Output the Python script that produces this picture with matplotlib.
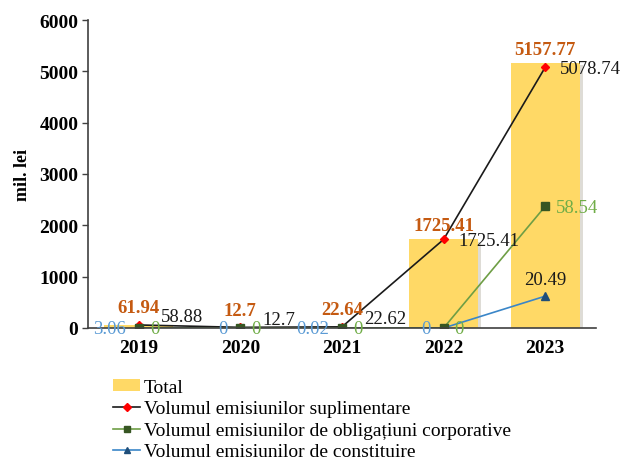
import matplotlib
matplotlib.use("Agg")
import matplotlib.pyplot as plt
import matplotlib.patheffects as pe
from matplotlib.lines import Line2D
from matplotlib.patches import Patch

years = ['2019', '2020', '2021', '2022', '2023']
total = [61.94, 12.7, 22.64, 1725.41, 5157.77]
suplimentare = [58.88, 12.7, 22.62, 1725.41, 5078.74]
# plotted positions as drawn in the reference / labels as printed
obligatiuni_pos = [0, 0, 0, 0, 2370]
obligatiuni_lbl = ['0', '0', '0', '0', '58.54']
constituire_pos = [3.06, 0, 0.02, 0, 620]
constituire_lbl = ['3.06', '0', '0.02', '0', '20.49']
total_lbl = ['61.94', '12.7', '22.64', '1725.41', '5157.77']
supl_lbl = ['58.88', '12.7', '22.62', '1725.41', '5078.74']

plt.rcParams['font.family'] = ['Liberation Serif', 'DejaVu Serif']

fig = plt.figure(figsize=(6.22, 4.60), dpi=100)
ax = fig.add_axes([88/622, 1-329/460, (596-88)/622, (329-21)/460])

x = list(range(len(years)))
shadow = [pe.SimplePatchShadow(offset=(2, -1.5), alpha=0.18), pe.Normal()]
ax.bar(x, total, width=0.68, color='#FFD966', zorder=2, path_effects=shadow)

ax.plot(x, suplimentare, color='#1a1a1a', lw=1.2, marker='D', ms=4.5,
        mfc='#FF0000', mec='#FF0000', zorder=4)
ax.plot(x, obligatiuni_pos, color='#6E9E45', lw=1.2, marker='s', ms=5.5,
        mfc='#375623', mec='#375623', zorder=5)
ax.plot(x, constituire_pos, color='#3A86C8', lw=1.2, marker='^', ms=6,
        mfc='#1F4E79', mec='#1F4E79', zorder=3)

ax.set_xlim(-0.5, 4.5)
ax.set_ylim(0, 6000)
ax.set_yticks(range(0, 6001, 1000))
ax.set_xticks(x)
ax.set_xticklabels(years)
for lab in ax.get_xticklabels() + ax.get_yticklabels():
    lab.set_fontweight('bold')
    lab.set_fontsize(14)
ax.tick_params(axis='x', length=0, pad=8)
ax.tick_params(axis='y', length=4, width=1, color='#404040', pad=3)
for s in ['top', 'right']:
    ax.spines[s].set_visible(False)
for s in ['left', 'bottom']:
    ax.spines[s].set_color('#404040')
    ax.spines[s].set_linewidth(1.2)
ax.spines['bottom'].set_zorder(6)
ax.set_ylabel('mil. lei', fontsize=13, fontweight='bold', labelpad=6)

fs = 13.5
for i in x:
    small = total[i] < 500
    ax.annotate(total_lbl[i], (i, total[i]), xytext=(0, 17 if small else 14),
                textcoords='offset pixels', ha='center', va='center',
                color='#C55A11', fontweight='bold', fontsize=fs, zorder=7)
    ax.annotate(supl_lbl[i], (i, suplimentare[i]),
                xytext=((22, 8) if small else (15, -1)), textcoords='offset pixels',
                ha='left', va='center', color='#1a1a1a', fontsize=fs, zorder=7)
    ax.annotate(obligatiuni_lbl[i], (i, obligatiuni_pos[i]), xytext=(11, -1),
                textcoords='offset pixels', ha='left', va='center',
                color='#70AD47', fontsize=fs, zorder=7)
    if constituire_pos[i] > 100:
        ax.annotate(constituire_lbl[i], (i, constituire_pos[i]), xytext=(0, 17),
                    textcoords='offset pixels', ha='center', va='center',
                    color='#1a1a1a', fontsize=fs, zorder=7)
    else:
        ax.annotate(constituire_lbl[i], (i, constituire_pos[i]), xytext=(-13, -1),
                    textcoords='offset pixels', ha='right', va='center',
                    color='#5B9BD5', fontsize=fs, zorder=7)

handles = [
    Patch(facecolor='#FFD966', edgecolor='none'),
    Line2D([], [], color='#1a1a1a', lw=1.2, marker='D', ms=4, mfc='#FF0000', mec='#FF0000'),
    Line2D([], [], color='#6E9E45', lw=1.2, marker='s', ms=4.5, mfc='#375623', mec='#375623'),
    Line2D([], [], color='#3A86C8', lw=1.2, marker='^', ms=5, mfc='#1F4E79', mec='#1F4E79'),
]
labels = ['Total', 'Volumul emisiunilor suplimentare',
          'Volumul emisiunilor de obligațiuni corporative',
          'Volumul emisiunilor de constituire']
fig.legend(handles, labels, loc='upper left', bbox_to_anchor=(113/622, 1-380/460),
           frameon=False, fontsize=14, borderpad=0, borderaxespad=0,
           handlelength=1.4, handleheight=0.55, handletextpad=0.2, labelspacing=0.23)

fig.savefig('out.png', dpi=100)
